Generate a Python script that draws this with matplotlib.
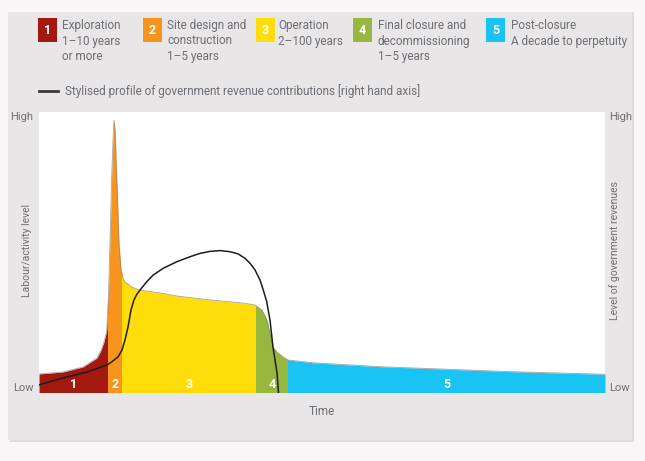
import matplotlib
matplotlib.use("Agg")
import matplotlib.pyplot as plt
from matplotlib.patches import Rectangle
from matplotlib.lines import Line2D
import numpy as np

plt.rcParams["font.family"] = ["Roboto", "DejaVu Sans"]

# ---- data -------------------------------------------------------------
phase_names = ["1", "2", "3", "4", "5"]
phase_text = [
    "Exploration\n1\u201310 years\nor more",
    "Site design and\nconstruction\n1\u20135 years",
    "Operation\n2\u2013100 years",
    "Final closure and\ndecommissioning\n1\u20135 years",
    "Post-closure\nA decade to perpetuity",
]
phase_colors = ["#a3180f", "#f7941d", "#ffdd0a", "#97b73e", "#19c3f3"]
# phase boundaries along the (stylised) time axis, 0-100
phase_edges = [0, 12.14, 14.61, 38.34, 44.08, 100]

# labour / activity level (left axis, 0 = Low, 1 = High)
labour_t = [0, 4.24, 7.77, 10.25, 10.95, 11.48, 11.96, 12.24, 12.54, 12.84,
            13.07, 13.25, 13.43, 13.73, 14.13, 14.49, 14.84, 15.19, 16.38,
            17.84, 21.38, 24.38, 30.21, 36.04, 38.16, 39.40, 40.28, 40.81,
            41.34, 42.05, 43.11, 43.99, 48.41, 60.25, 72.08, 83.75, 100]
labour_v = [0.066, 0.073, 0.091, 0.123, 0.15, 0.18, 0.22, 0.33, 0.533, 0.768,
            0.90, 0.971, 0.936, 0.768, 0.533, 0.437, 0.408, 0.394, 0.376,
            0.365, 0.355, 0.344, 0.330, 0.319, 0.312, 0.294, 0.258, 0.212,
            0.162, 0.144, 0.127, 0.116, 0.106, 0.092, 0.083, 0.074, 0.065]

# government revenue contributions (right axis, 0 = Low, 1 = High)
revenue_t = [0, 4.24, 8.48, 12.01, 12.9, 13.96, 14.66, 15.19, 15.72, 16.25,
             16.78, 17.31, 17.84, 19.03, 20.19, 21.96, 24.33, 26.68, 28.45,
             30.21, 31.98, 33.75, 35.21, 36.40, 37.28, 38.16, 39.05, 39.63,
             40.23, 40.81, 41.34, 41.70, 42.05, 42.31]
revenue_v = [0.027, 0.052, 0.073, 0.098, 0.110, 0.127, 0.151, 0.187, 0.233,
             0.294, 0.330, 0.351, 0.365, 0.395, 0.419, 0.443, 0.466, 0.484,
             0.496, 0.503, 0.506, 0.502, 0.494, 0.478, 0.461, 0.437, 0.401,
             0.365, 0.324, 0.258, 0.162, 0.116, 0.070, 0.0]

# ---- figure -----------------------------------------------------------
W, H = 645, 461
fig = plt.figure(figsize=(W / 100, H / 100), dpi=100)
fig.patch.set_facecolor("#f8f6f6")

def fx(x):
    return x / W

def fy(y):
    return 1 - y / H

txt_col = "#6e6f76"

# grey panel behind everything
fig.patches.append(Rectangle((fx(10), fy(442)), fx(624), 430 / H,
                             transform=fig.transFigure, facecolor="#dedcdc",
                             edgecolor="none", zorder=-2))
fig.patches.append(Rectangle((fx(8), fy(440)), fx(624), 428 / H,
                             transform=fig.transFigure, facecolor="#e8e6e6",
                             edgecolor="none", zorder=-1))

ax = fig.add_axes([fx(39), fy(392.5), fx(566), 280.5 / H])
ax.set_zorder(2)
ax.set_facecolor("white")
ax.set_xlim(0, 100)
ax.set_ylim(0, 1)

t = np.array(labour_t)
v = np.array(labour_v)
for i, col in enumerate(phase_colors):
    a, b = phase_edges[i], phase_edges[i + 1]
    poly = ax.fill_between(t, v, 0, color=col, lw=0, zorder=2)
    clip = Rectangle((a, 0), b - a, 1, transform=ax.transData)
    poly.set_clip_path(clip)
    ax.text((a + b) / 2, 0.03, phase_names[i], color="white", fontsize=9,
            fontweight="bold", ha="center", va="center", zorder=5)
ax.plot(t, v, color="#8a7f78", lw=0.6, alpha=0.7, zorder=3)


def style_side(axis, pad):
    for s in axis.spines.values():
        s.set_visible(False)
    axis.set_yticks([0, 1])
    labels = axis.set_yticklabels(["Low", "High"], color=txt_col, fontsize=8)
    labels[0].set_verticalalignment("bottom")
    labels[1].set_verticalalignment("top")
    axis.tick_params(axis="y", length=0, pad=pad)


ax.set_xticks([])
style_side(ax, 4)
ax.set_ylabel("Labour/activity level", color=txt_col, fontsize=7.5)
ax.yaxis.set_label_coords(-0.012, 0.508)
ax.set_xlabel("Time", color=txt_col, fontsize=8.5, va="center")
ax.xaxis.set_label_coords(0.5, -0.066)

ax2 = ax.twinx()
ax2.set_ylim(0, 1)
ax2.plot(revenue_t, revenue_v, color="#1e1e1e", lw=1.1, zorder=4)
style_side(ax2, 3)
ax2.set_ylabel("Level of government revenues", color=txt_col, fontsize=7.5,
               rotation=90)
ax2.yaxis.set_label_coords(1.008, 0.508)

# ---- legend -----------------------------------------------------------
sq_x = [38, 143, 256, 353, 486]
txt_x = [62, 167, 278, 378, 511]
for i in range(5):
    fig.patches.append(Rectangle((fx(sq_x[i]), fy(42)), fx(19), 24 / H,
                                 transform=fig.transFigure,
                                 facecolor=phase_colors[i], edgecolor="none"))
    fig.text(fx(sq_x[i] + 9.5), fy(30), phase_names[i], color="white",
             fontsize=9, fontweight="bold", ha="center", va="center")
    fig.text(fx(txt_x[i]), fy(19), phase_text[i], color=txt_col, fontsize=8.5,
             ha="left", va="top", linespacing=1.25)

fig.lines.append(Line2D([fx(39), fx(58)], [fy(91), fy(91)],
                        transform=fig.transFigure, color="#3a3a3a", lw=2))
fig.text(fx(65), fy(91),
         "Stylised profile of government revenue contributions [right hand axis]",
         color=txt_col, fontsize=8.5, ha="left", va="center")

fig.savefig("out.png", dpi=100, facecolor=fig.get_facecolor())
